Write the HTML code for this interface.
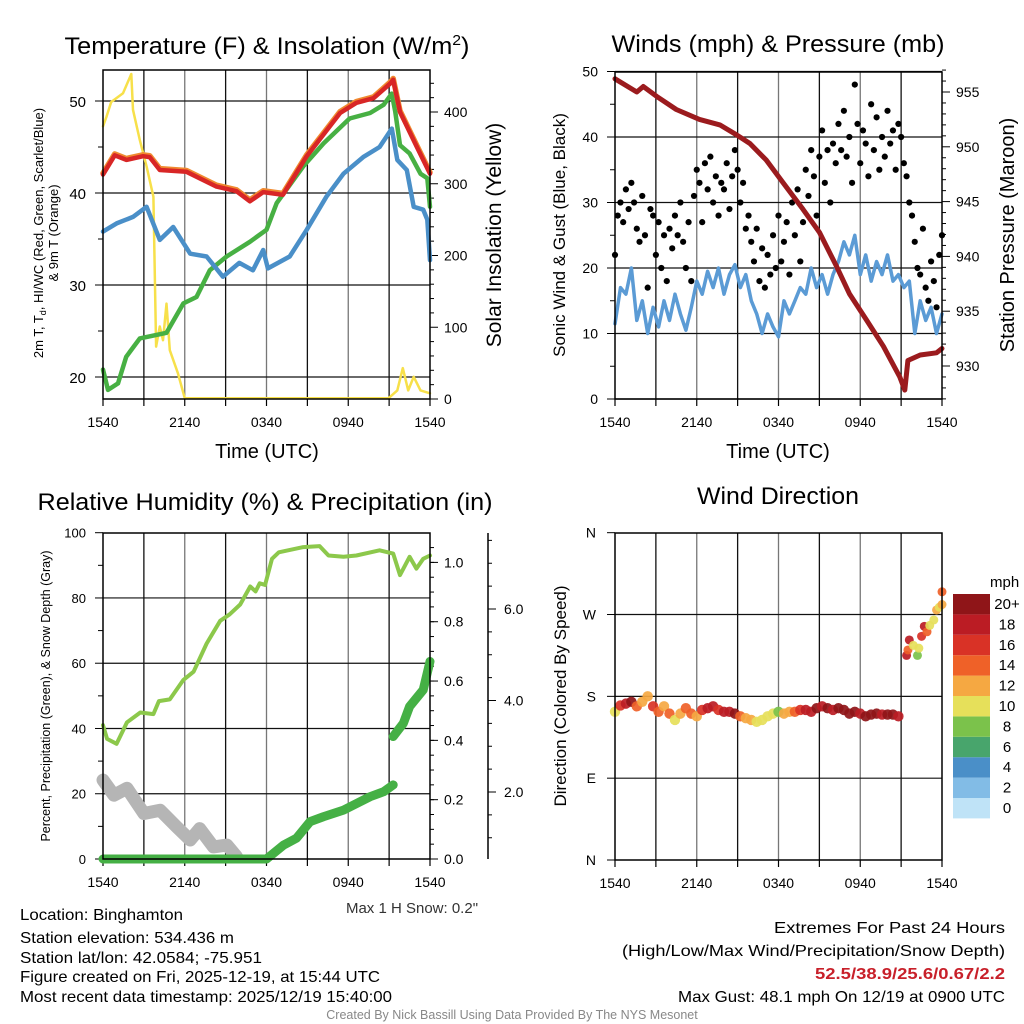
<!DOCTYPE html>
<html><head><meta charset="utf-8"><style>
html,body{margin:0;padding:0;background:#fff}
svg{display:block;font-family:"Liberation Sans",Arial,sans-serif}
</style></head><body>
<svg id="chart" width="1024" height="1024" viewBox="0 0 1024 1024" xmlns="http://www.w3.org/2000/svg">
<rect width="1024" height="1024" fill="#fff"/>
<text x="267" y="54" font-size="24" text-anchor="middle" textLength="405" lengthAdjust="spacingAndGlyphs">Temperature (F) &amp; Insolation (W/m<tspan dy="-9" font-size="15">2</tspan><tspan dy="9">)</tspan></text>
<text x="778" y="52" font-size="24" text-anchor="middle" textLength="333" lengthAdjust="spacingAndGlyphs">Winds (mph) &amp; Pressure (mb)</text>
<text x="265" y="510" font-size="24" text-anchor="middle" textLength="455" lengthAdjust="spacingAndGlyphs">Relative Humidity (%) &amp; Precipitation (in)</text>
<text x="778" y="504" font-size="24" text-anchor="middle" textLength="162" lengthAdjust="spacingAndGlyphs">Wind Direction</text>
<text transform="translate(43,233) rotate(-90)" font-size="13" text-anchor="middle">2m T, T<tspan dy="3" font-size="9">d</tspan><tspan dy="-3">, HI/WC (Red, Green, Scarlet/Blue)</tspan></text>
<text transform="translate(58,233) rotate(-90)" font-size="13" text-anchor="middle">&amp; 9m T (Orange)</text>
<text transform="translate(501,235) rotate(-90)" font-size="21" text-anchor="middle">Solar Insolation (Yellow)</text>
<text x="267" y="458" font-size="20" text-anchor="middle">Time (UTC)</text>
<text transform="translate(565,235) rotate(-90)" font-size="17" text-anchor="middle">Sonic Wind &amp; Gust (Blue, Black)</text>
<text transform="translate(1014,235) rotate(-90)" font-size="20" text-anchor="middle">Station Pressure (Maroon)</text>
<text x="778" y="458" font-size="20" text-anchor="middle">Time (UTC)</text>
<text transform="translate(50,696) rotate(-90)" font-size="12.5" text-anchor="middle">Percent, Precipitation (Green), &amp; Snow Depth (Gray)</text>
<text transform="translate(566,696) rotate(-90)" font-size="17" text-anchor="middle">Direction (Colored By Speed)</text>
<text x="412" y="913" font-size="15" fill="#333" text-anchor="middle">Max 1 H Snow: 0.2"</text>
<text x="990" y="587" font-size="15">mph</text>
<g font-size="16">
<text x="20" y="920" textLength="163" lengthAdjust="spacingAndGlyphs">Location: Binghamton</text>
<text x="20" y="943" textLength="214" lengthAdjust="spacingAndGlyphs">Station elevation: 534.436 m</text>
<text x="20" y="963" textLength="242" lengthAdjust="spacingAndGlyphs">Station lat/lon: 42.0584; -75.951</text>
<text x="20" y="982" textLength="360" lengthAdjust="spacingAndGlyphs">Figure created on Fri, 2025-12-19, at 15:44 UTC</text>
<text x="20" y="1002" textLength="372" lengthAdjust="spacingAndGlyphs">Most recent data timestamp: 2025/12/19 15:40:00</text>
</g>
<g font-size="16" text-anchor="end">
<text x="1005" y="933" textLength="231" lengthAdjust="spacingAndGlyphs">Extremes For Past 24 Hours</text>
<text x="1005" y="956" textLength="383" lengthAdjust="spacingAndGlyphs">(High/Low/Max Wind/Precipitation/Snow Depth)</text>
<text x="1005" y="979" fill="#c8202a" font-weight="bold" textLength="190" lengthAdjust="spacingAndGlyphs">52.5/38.9/25.6/0.67/2.2</text>
<text x="1005" y="1002" textLength="327" lengthAdjust="spacingAndGlyphs">Max Gust: 48.1 mph On 12/19 at 0900 UTC</text>
</g>
<text x="512" y="1019" font-size="12.5" fill="#888" text-anchor="middle">Created By Nick Bassill Using Data Provided By The NYS Mesonet</text>
</svg>
<script>
// ---- data ----
const xTickLabels=['1540','2140','0340','0940','1540'];
const tempTicks=[20,30,40,50];
const solarTicks=[0,100,200,300,400];
const windTicks=[0,10,20,30,40,50];
const presTicks=[930,935,940,945,950,955];
const rhTicks=[0,20,40,60,80,100];
const precipTicks=['0.0','0.2','0.4','0.6','0.8','1.0'];
const snowTicks=['2.0','4.0','6.0'];
const dirLabels=['N','E','S','W','N'];
const dirTickVals=[0,90,180,270,360];
const speedBins=['0','2','4','6','8','10','12','14','16','18','20+'];
const speedColors=['#bfe3f7','#82bce6','#4a8fc8','#48a56c','#7bc24b','#e6e05a','#f5a842','#ef6128','#d93226','#bb1c24','#8f1518'];

const tempH=[0,0.86,1.72,2.94,3.43,4.17,6.13,8.33,9.8,10.78,11.76,13.2,14.95,17.4,18.6,19.85,21.08,21.3,21.8,23.04,24];
const tempV=[42,44.1,43.6,44,43.9,42.5,42.3,40.7,40.2,39.1,40.1,39.8,44,48.7,49.8,50.3,51.9,52.3,48.8,45,42.1];
const dewH=[0,0.37,1.1,1.7,2.7,4.66,5.9,6.86,7.84,9.07,10.78,12,12.75,14.7,16.2,18.1,19.6,20.6,21.2,21.45,21.8,22.5,23.3,23.8,24];
const dewV=[20.8,18.6,19.3,22.2,24.2,24.8,28,28.7,31.6,33.1,34.7,36,38.9,42.9,45.4,48.1,48.7,49.6,50.8,48.8,45.2,44.3,42.1,41.6,38.5];
const wcH=[0,1,2.2,3.2,4.17,5.15,6.4,7.6,8.8,10,11,11.76,12.1,13.7,14.95,16.4,17.65,19.1,20.3,21.2,21.6,22.3,22.8,23.5,23.8,24];
const wcV=[35.8,36.7,37.4,38.5,34.9,36.3,33.4,33.1,30.9,32.4,31.6,33.8,31.8,33.1,36,39.6,42.1,43.9,45,47,43.6,42.5,38.5,38.2,37.1,32.7];
const solH=[0,0.25,0.6,1.47,2.08,2.2,2.7,3.2,3.7,3.9,4.17,4.4,4.66,4.9,5.5,6,20.95,21.6,22,22.4,22.8,23.3,24];
const solV=[380,393,414,426,453,403,361,324,282,73,101,82,133,68,36,1,1,12,43,12,31,12,8];

const presH=[0,1.6,2.08,3.06,4.5,6.2,7.7,8.9,9.9,11.1,12.35,13.8,15,16.26,17.2,18.46,19.7,20.9,21.27,21.5,22.4,23.6,24];
const presV=[956.2,955,955.5,954.6,953.4,952.5,952,951.1,950.3,948.8,946.7,944.3,942.2,939.1,936.6,934.2,931.8,929,927.8,930.5,931,931.2,931.6];
const windStep=0.4;
const windV=[11.5,17,16,20,12,15,10,14,11,15,12,16,13,10.5,14,18,16,19.5,17,20,16,19,20.5,17,19,15,13,10,13,11,9.5,15,13,15,17,16,20,17,19,16,19,21,24,22,25,19,22,18,21,19,22,18,19,17,18,10,15,12,14,10,13];
const gustStep=0.2;
const gustV=[22,28,30,27,32,29,33,30,26,24,31,25,17,29,28,22,27,20,25,18,26,23,28,25,30,24,20,27,18,31,35,33,27,36,32,37,30,34,28,33,32,36,29,34,38,35,30,33,26,28,24,21,26,18,23,17,22,19,25,20,28,21,24,27,19,30,25,32,21,27,35,31,38,34,28,37,41,33,38,30,39,36,42,38,44,37,40,33,48,42,36,41,39,34,45,38,43,35,40,37,44,39,41,35,42,40,36,34,30,28,24,20,19,26,17,15,21,18,14,22,25];

const rhH=[0,0.3,1,1.76,2.74,3.7,4.1,4.9,5.9,6.65,7.6,8.6,9.3,10.07,10.8,11.2,11.5,11.9,12.4,12.9,14.7,15.9,16.55,17.65,18.6,20.3,21.3,21.8,22.5,23,23.5,24];
const rhV=[41,36.8,35.3,41.9,44.9,44.4,48.4,48.9,54.9,57.4,66,73,75,78,83.5,82,84.5,84,92,94,95.6,95.9,93,92.6,93,94.6,93.6,87,92.6,89,92,93];
const precipH=[0,6,12,13.25,14.2,15.2,16.2,17.65,19.6,20.6,21.3];
const precipV=[0,0,0,0.047,0.07,0.126,0.143,0.165,0.21,0.227,0.25];
const precip2H=[21.3,22.05,22.5,23.5,24];
const precip2V=[0.413,0.458,0.514,0.57,0.666];
const snowH=[0,0.8,1.76,3,4.2,5.4,6.4,7.1,8.1,9.1,9.8];
const snowV=[2.26,1.93,2.08,1.53,1.6,1.24,0.95,1.2,0.8,0.84,0.59];

const dirStep=0.4;
const dirV=[163,170,172,174,169,174,180,169,163,169,161,154,161,167,161,158,165,167,169,165,163,163,161,158,156,154,152,154,158,161,163,161,163,163,165,165,163,167,169,167,165,167,165,161,163,161,158,160,161,160,160,160,158];
const dirSpd=[10,16,18,20,14,12,12,16,14,12,14,10,12,15,14,12,17,18,19,16,18,19,20,14,12,13,11,10,11,10,9,13,12,15,17,18,19,20,18,20,19,21,22,20,21,19,20,21,20,19,20,21,19];
const dir2H=[21.4,21.5,21.6,21.9,22.2,22.3,22.5,22.7,22.9,23.1,23.4,23.6,23.8,24,24];
const dir2V=[225,231,242,236,225,233,246,257,251,258,264,275,278,281,295];
const dir2S=[19,14,18,11,8,10,16,18,14,11,10,12,10,13,14];

// ---- scales ----
const x1=h=>103+h*327/24, yT=v=>377-(v-20)*9.2, yS=v=>399-v*0.7175;
const x2=h=>615+h*327/24, yW=v=>399-v*6.55, yP=v=>92-(v-955)*10.96;
const x3=x1, yRH=v=>859-v*3.263, yPr=v=>859-v*296.6, ySn=v=>883.5-v*45.75;
const x4=x2, yD=v=>860-v*0.9092;

const NS='http://www.w3.org/2000/svg';
const svg=document.getElementById('chart');
function mk(tag,attrs,parent){const e=document.createElementNS(NS,tag);for(const k in attrs)e.setAttribute(k,attrs[k]);(parent||svg).appendChild(e);return e;}
function txt(x,y,s,size,anchor){const t=mk('text',{x:x,y:y,'font-size':size,'text-anchor':anchor});t.textContent=s;return t;}
function pts(hs,vs,fx,fy){return hs.map((h,i)=>fx(h).toFixed(1)+','+fy(vs[i]).toFixed(1)).join(' ');}
function line(hs,vs,fx,fy,color,w,name){
  const p=mk('polyline',{points:pts(hs,vs,fx,fy),fill:'none',stroke:color,'stroke-width':w,'stroke-linejoin':'round','stroke-linecap':'round'});
  
  
  return p;}
function stepH(arr,step){return arr.map((v,i)=>i*step);}

function panel(L,T,R,B,fx){
  for(let h=3;h<24;h+=3){
    const g=mk('line',{x1:fx(h),x2:fx(h),y1:T,y2:B,stroke:(h%6===0)?'#777':'#111','stroke-width':1.3});
    
    
  }
  for(let h=0;h<=24;h+=3){
    const t=mk('line',{x1:fx(h),x2:fx(h),y1:B,y2:B+7,stroke:'#000','stroke-width':1.2});
    
    
  }
  xTickLabels.forEach((s,i)=>{
    const t=txt(fx(i*6),B+28,s,14,'middle');
    
    
  });
}
function frame(L,T,R,B){
  const f=mk('rect',{x:L,y:T,width:R-L,height:B-T,fill:'none',stroke:'#000','stroke-width':1.5});
  
  
}
function hgrid(L,R,y,col){
  const g=mk('line',{x1:L,x2:R,y1:y,y2:y,stroke:col||'#111','stroke-width':1.2});
  
  
}
function tick(x,y,dx){
  const t=mk('line',{x1:x,x2:x+dx,y1:y,y2:y,stroke:'#000','stroke-width':1});
  
  
}

// ---- Panel 1 ----
panel(103,70,430,399,x1);
tempTicks.forEach(v=>{hgrid(103,430,yT(v));tick(103,yT(v),-8);
  const t=txt(86,yT(v)+6,String(v),15,'end');
  
  });
for(let v=25;v<=50;v+=10)tick(103,yT(v),-5);
solarTicks.forEach(v=>{tick(430,yS(v),8);
  const t=txt(444,yS(v)+5,String(v),14,'start');
  
  });
for(let v=20;v<=440;v+=20)if(v%100)tick(430,yS(v),4);
line(solH,solV,x1,yS,'#f7e04a',2.5,'solar-insolation-line');
line(dewH,dewV,x1,yT,'#47b043',4.5,'dewpoint-line');
line(wcH,wcV,x1,yT,'#4a8fc8',4.5,'wind-chill-line');
line(tempH,tempV.map(v=>v+0.15),x1,yT,'#f08a30',5.5,'9m-temperature-line');
line(tempH,tempV,x1,yT,'#d82626',4.5,'2m-temperature-line');
frame(103,70,430,399);

// ---- Panel 2 ----
panel(615,72,942,399,x2);
windTicks.forEach(v=>{hgrid(615,942,yW(v));tick(615,yW(v),-8);
  const t=txt(598,yW(v)+5,String(v),14,'end');
  
  });
for(let v=5;v<50;v+=10)tick(615,yW(v),-5);
presTicks.forEach(v=>{tick(942,yP(v),8);
  const t=txt(956,yP(v)+5,String(v),14,'start');
  
  });
for(let v=927;v<=957;v++)if(v%5)tick(942,yP(v),4);
line(stepH(windV,windStep),windV,x2,yW,'#5b9bd5',3.5,'sonic-wind-line');
gustV.forEach((v,i)=>{
  const c=mk('circle',{cx:x2(i*gustStep),cy:yW(v),r:3.1,fill:'#000'});
  
  
});
line(presH,presV,x2,yP,'#9b1b1e',5,'pressure-line');
frame(615,72,942,399);

// ---- Panel 3 ----
panel(103,533,430,859,x3);
rhTicks.forEach(v=>{if(v>0&&v<100)hgrid(103,430,yRH(v));tick(103,yRH(v),-8);
  const t=txt(86,yRH(v)+5,String(v),13,'end');
  
  });
for(let v=10;v<100;v+=10)if(v%20)tick(103,yRH(v),-5);
precipTicks.forEach((s,i)=>{tick(430,yPr(i*0.2),8);
  const t=txt(444,yPr(i*0.2)+5,s,14,'start');
  
  });
for(let v=0.05;v<1.1;v+=0.05)tick(430,yPr(v),4);
const sa=mk('line',{x1:488,x2:488,y1:533,y2:859,stroke:'#000','stroke-width':1.5});


snowTicks.forEach(s=>{const v=parseFloat(s);tick(488,ySn(v),8);
  const t=txt(504,ySn(v)+5,s,14,'start');
  
  });
for(let v=0.5;v<8;v+=0.5)if(ySn(v)>535&&ySn(v)<858)tick(488,ySn(v),4);
line(snowH,snowV,x3,ySn,'#b5b5b5',13,'snow-depth-line');
line(precipH,precipV,x3,yPr,'#45b045',9,'precipitation-line');
line(precip2H,precip2V,x3,yPr,'#45b045',9,'precipitation-line-2');
line(rhH,rhV,x3,yRH,'#8cc84b',4,'relative-humidity-line');
frame(103,533,430,859);

// ---- Panel 4 ----
panel(615,533,942,860,x4);
dirTickVals.forEach((v,i)=>{if(v>0&&v<360)hgrid(615,942,yD(v));tick(615,yD(v),-8);
  const t=txt(596,yD(v)+5,dirLabels[i],14,'end');
  
  });
function colorFor(s){let i=Math.min(10,Math.max(0,Math.floor(s/2)));return speedColors[i];}
dirV.forEach((v,i)=>{
  const c=mk('circle',{cx:x4(i*dirStep),cy:yD(v),r:5.2,fill:colorFor(dirSpd[i]),'fill-opacity':0.92});
  
  
});
dir2V.forEach((v,i)=>{
  const c=mk('circle',{cx:x4(dir2H[i]),cy:yD(v),r:4.5,fill:colorFor(dir2S[i]),'fill-opacity':0.92});
  
  
});
frame(615,533,942,860);
speedBins.forEach((s,i)=>{
  const y=594+(10-i)*20.4;
  const r=mk('rect',{x:953,y:y,width:37,height:20.4,fill:speedColors[i]});
  
  
  const t=txt(1007,y+15,s,15,'middle');
  
  
});
</script>
</body></html>
